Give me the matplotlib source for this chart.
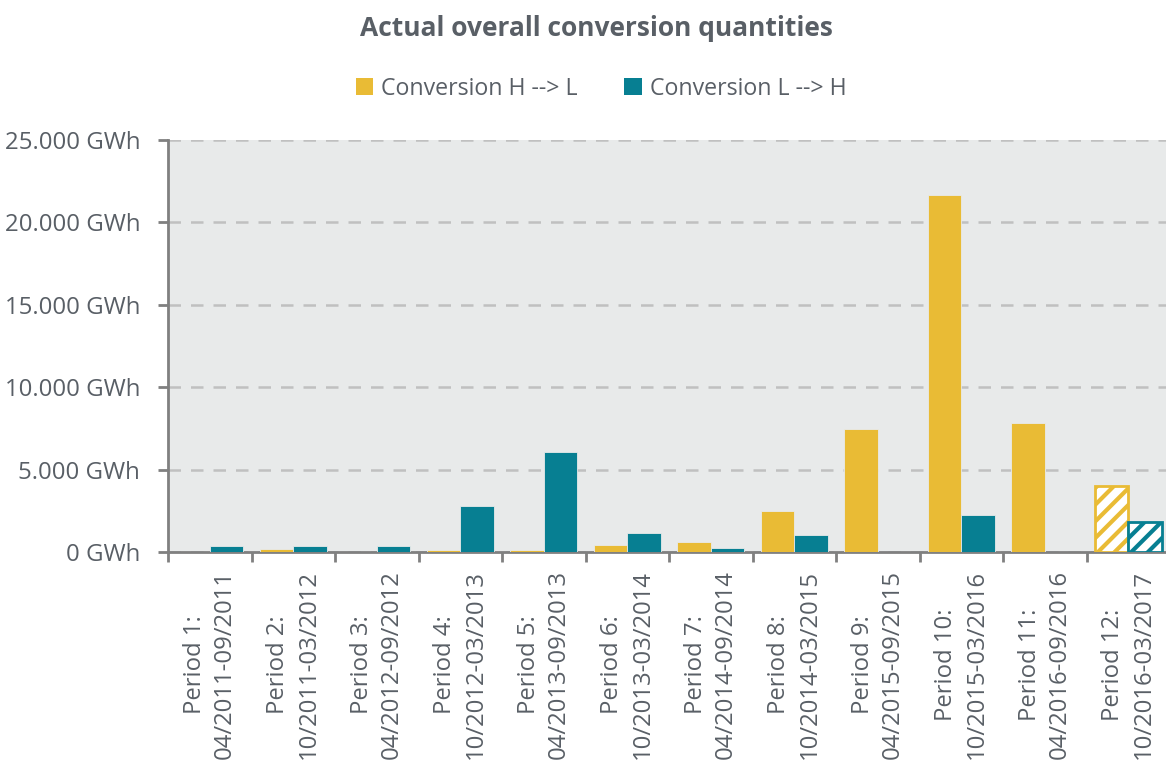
import matplotlib
matplotlib.use("Agg")
import matplotlib.pyplot as plt
import numpy as np
from matplotlib.patches import Patch
from matplotlib.ticker import FuncFormatter

periods = ["Period 1:\n04/2011-09/2011", "Period 2:\n10/2011-03/2012",
           "Period 3:\n04/2012-09/2012", "Period 4:\n10/2012-03/2013",
           "Period 5:\n04/2013-09/2013", "Period 6:\n10/2013-03/2014",
           "Period 7:\n04/2014-09/2014", "Period 8:\n10/2014-03/2015",
           "Period 9:\n04/2015-09/2015", "Period 10:\n10/2015-03/2016",
           "Period 11:\n04/2016-09/2016", "Period 12:\n10/2016-03/2017"]
h_to_l = [30, 180, 0, 120, 100, 430, 590, 2490, 7460, 21660, 7850, 3990]
l_to_h = [380, 380, 380, 2790, 6090, 1150, 230, 1010, 0, 2230, 0, 1800]
forecast = [False]*11 + [True]
yticks = [0, 5000, 10000, 15000, 20000, 25000]

YELLOW = "#e9bb35"
TEAL = "#077f92"
TXT = "#595f66"
plt.rcParams['font.family'] = ['Open Sans', 'DejaVu Sans']
plt.rcParams['hatch.linewidth'] = 3.0

fig = plt.figure(figsize=(11.66, 7.6), dpi=100)
ax = fig.add_axes([168/1166, 208/760, 1002/1166, 412/760])
ax.set_facecolor("#e8eaea")

x = np.arange(len(periods))
w = 0.4
for i in x:
    for vals, col, off in ((h_to_l, YELLOW, -w/2), (l_to_h, TEAL, w/2)):
        if forecast[i]:
            ax.bar(i + off, vals[i], w, facecolor="white", edgecolor=col,
                   hatch="//", linewidth=2, zorder=3)
        else:
            ax.bar(i + off, vals[i], w, color=col, edgecolor="#e8eaea",
                   linewidth=0.6, zorder=3)

ax.set_xlim(-0.5, 11.5)
ax.set_ylim(0, 25000)
ax.set_yticks(yticks)
ax.yaxis.set_major_formatter(FuncFormatter(lambda v, p: f"{int(v):,} GWh".replace(",", ".")))
ax.grid(axis="y", color="#c0c0c0", linestyle=(0, (5, 4)), linewidth=1.8, zorder=0)
ax.set_axisbelow(True)

ax.set_xticks(np.arange(-0.5, 12, 1.0))
ax.set_xticklabels([])
ax.set_xticks(x, minor=True)
ax.set_xticklabels(periods, minor=True, rotation=90, ha="center", va="top",
                   fontsize=17.2, color=TXT, linespacing=1.36)
ax.tick_params(axis="x", which="minor", length=0, pad=13)
ax.tick_params(axis="x", which="major", length=7, width=2, color="#808080")
ax.tick_params(axis="y", length=7, width=2, color="#808080", labelsize=17.3, labelcolor=TXT, pad=13)

for s in ("top", "right"):
    ax.spines[s].set_visible(False)
for s in ("left", "bottom"):
    ax.spines[s].set_color("#808080")
    ax.spines[s].set_linewidth(2)

fig.text(596/1166, 1 - 29/760, "Actual overall conversion quantities", ha="center", va="center",
         fontsize=19, fontweight="bold", color=TXT)
handles = [Patch(facecolor=YELLOW, label="Conversion H --> L"),
           Patch(facecolor=TEAL, label="Conversion L --> H")]
fig.legend(handles=handles, loc="center", bbox_to_anchor=(601/1166, 1 - 89/760), ncol=2,
           frameon=False, fontsize=16.7, labelcolor=TXT, handlelength=0.75, handleheight=0.75,
           handletextpad=0.35, columnspacing=2.0)

fig.savefig("out.png", dpi=100)
